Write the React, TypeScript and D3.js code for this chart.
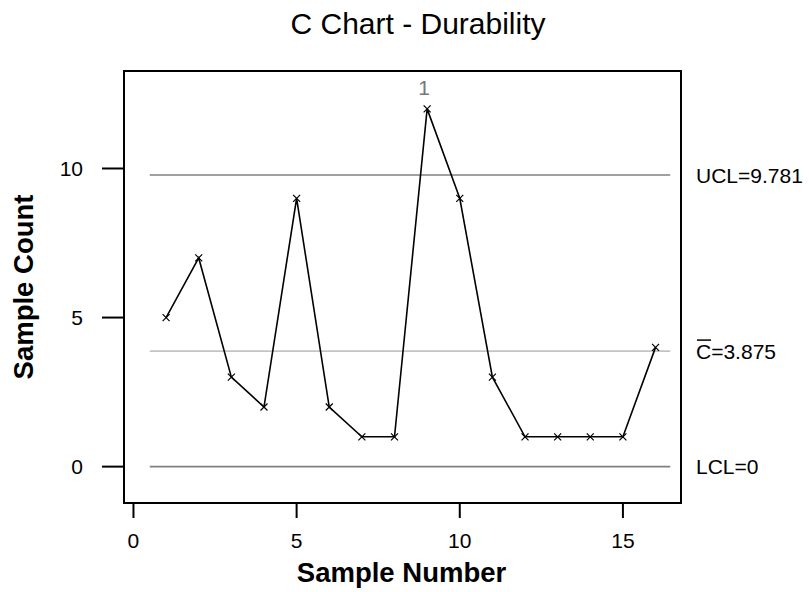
import React from "react";
import * as d3 from "d3";

// sample counts
const sampleNumbers = [1, 2, 3, 4, 5, 6, 7, 8, 9, 10, 11, 12, 13, 14, 15, 16];
const sampleCounts = [5, 7, 3, 2, 9, 2, 1, 1, 12, 9, 3, 1, 1, 1, 1, 4];
const xTicks = [0, 5, 10, 15];
const yTicks = [0, 5, 10];
const limits = [
  { name: "UCL", value: 9.781, label: "UCL=9.781" },
  { name: "CL", value: 3.875, label: "=3.875" },
  { name: "LCL", value: 0, label: "LCL=0" },
];
const outOfControl = [{ sample: 9, flag: "1" }];

const width = 809;
const height = 592;
const box = { left: 124, right: 681, top: 71, bottom: 503 };
const font = "'Liberation Sans', Arial, sans-serif";

export default function App() {
  const x = d3.scaleLinear().domain([-0.29, 16.78]).range([box.left, box.right]);
  const y = d3.scaleLinear().domain([-1.22, 13.27]).range([box.bottom, box.top]);

  const points = sampleNumbers.map((n, i) => ({ n, c: sampleCounts[i] }));
  const line = d3
    .line<{ n: number; c: number }>()
    .x((d) => x(d.n))
    .y((d) => y(d.c));

  const lineStart = x(0.5);
  const lineEnd = x(16.45);

  return (
    <svg
      width={width}
      height={height}
      style={{ position: "absolute", left: 0, top: 0, background: "#fff" }}
      fontFamily={font}
    >
      <text x={418} y={34} textAnchor="middle" fontSize={30} fill="#000">
        C Chart - Durability
      </text>

      {/* control limits */}
      {limits.map((l) => (
        <g key={l.name}>
          <line
            x1={lineStart}
            x2={lineEnd}
            y1={y(l.value)}
            y2={y(l.value)}
            stroke={l.name === "CL" ? "#c4c4c4" : "#808080"}
            strokeWidth={1.6}
          />
          {l.name === "CL" ? (
            <g>
              <text x={696} y={y(l.value)} dy="0.36em" fontSize={21} fill="#000">
                C{l.label}
              </text>
              <line x1={697} x2={711} y1={y(l.value) - 11} y2={y(l.value) - 11} stroke="#000" strokeWidth={1.5} />
            </g>
          ) : (
            <text x={696} y={y(l.value)} dy="0.36em" fontSize={21} fill="#000">
              {l.label}
            </text>
          )}
        </g>
      ))}

      {/* data */}
      <path d={line(points) || ""} fill="none" stroke="#000" strokeWidth={1.6} />
      {points.map((p) => (
        <path
          key={p.n}
          d={`M${x(p.n) - 3.5},${y(p.c) - 3.5}L${x(p.n) + 3.5},${y(p.c) + 3.5}M${x(p.n) - 3.5},${y(p.c) + 3.5}L${x(p.n) + 3.5},${y(p.c) - 3.5}`}
          stroke="#000"
          strokeWidth={1.2}
        />
      ))}
      {outOfControl.map((o) => (
        <text
          key={o.sample}
          x={x(o.sample) - 3}
          y={y(sampleCounts[o.sample - 1]) - 14}
          textAnchor="middle"
          fontSize={21}
          fill="#777"
        >
          {o.flag}
        </text>
      ))}

      {/* frame */}
      <rect
        x={box.left}
        y={box.top}
        width={box.right - box.left}
        height={box.bottom - box.top}
        fill="none"
        stroke="#000"
        strokeWidth={2}
      />

      {/* y axis */}
      {yTicks.map((t) => (
        <g key={t}>
          <line x1={102} x2={box.left} y1={y(t)} y2={y(t)} stroke="#000" strokeWidth={2} />
          <text x={83} y={y(t)} dy="0.36em" textAnchor="end" fontSize={21} fill="#000">
            {t}
          </text>
        </g>
      ))}
      <text
        transform={`translate(33,${(box.top + box.bottom) / 2}) rotate(-90)`}
        textAnchor="middle"
        fontSize={27.5}
        fontWeight="bold"
        fill="#000"
      >
        Sample Count
      </text>

      {/* x axis */}
      {xTicks.map((t) => (
        <g key={t}>
          <line x1={x(t)} x2={x(t)} y1={box.bottom} y2={518} stroke="#000" strokeWidth={2} />
          <text x={x(t)} y={548} textAnchor="middle" fontSize={21} fill="#000">
            {t}
          </text>
        </g>
      ))}
      <text x={401.5} y={582} textAnchor="middle" fontSize={27.5} fontWeight="bold" fill="#000">
        Sample Number
      </text>
    </svg>
  );
}
